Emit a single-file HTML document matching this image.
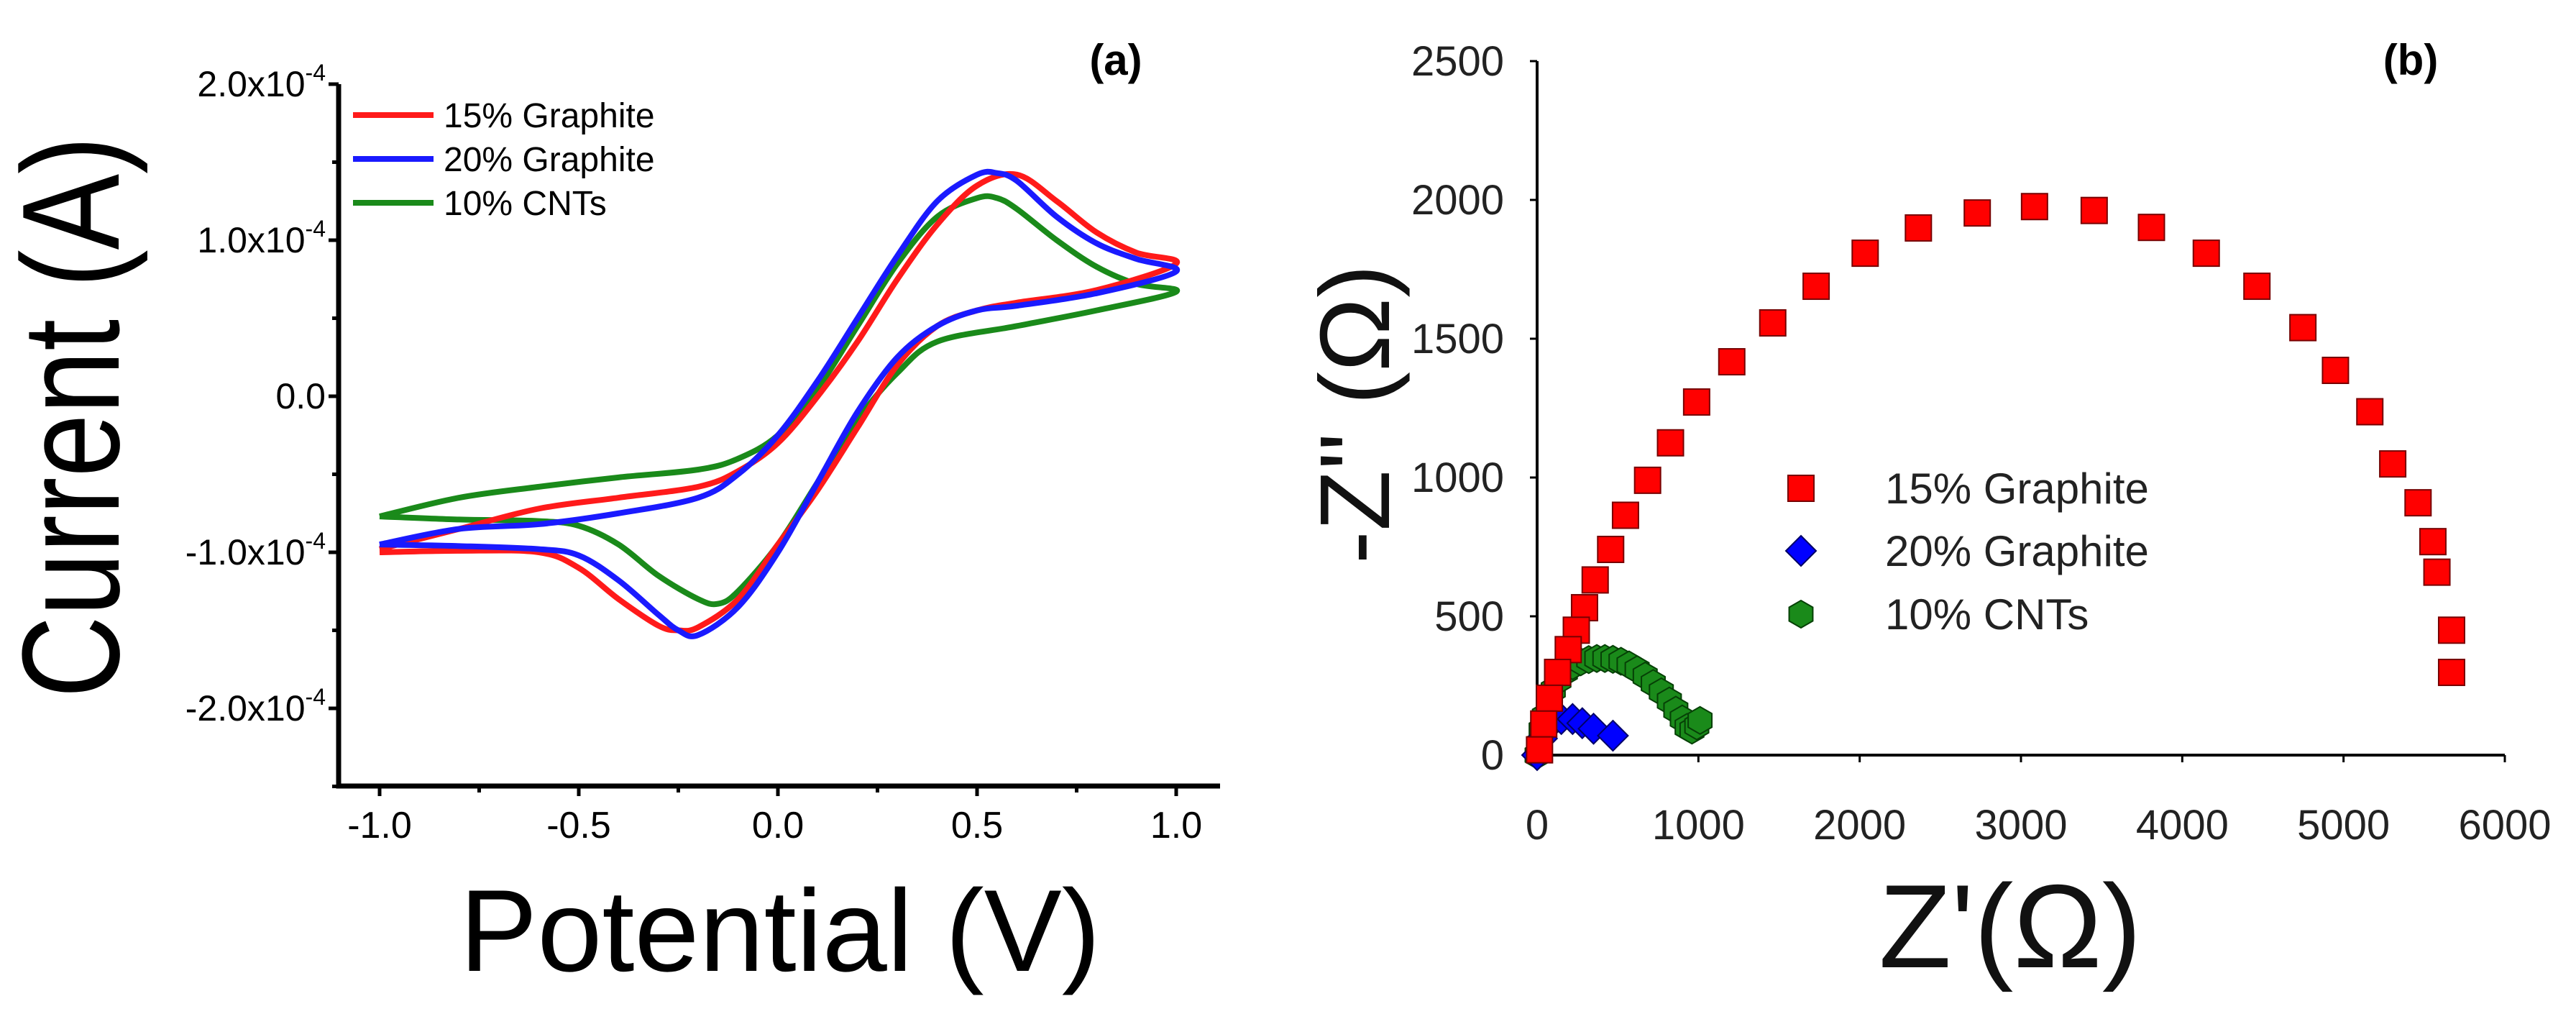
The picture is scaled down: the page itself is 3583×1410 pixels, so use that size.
<!DOCTYPE html>
<html><head><meta charset="utf-8"><style>
html,body{margin:0;padding:0;background:#fff;}
svg{display:block;}
text{font-family:"Liberation Sans",sans-serif;}
</style></head><body>
<svg id="fig" width="3583" height="1410" viewBox="0 0 3583 1410" xmlns="http://www.w3.org/2000/svg">
<g id="cv"></g>
<g id="eis"></g>
</svg>
<script>
// ---------- Panel (a) data: cyclic voltammetry (current in 1e-4 A) ----------
const cvXTicks = [-1.0, -0.5, 0.0, 0.5, 1.0];
const cvXTickLabels = ["-1.0", "-0.5", "0.0", "0.5", "1.0"];
const cvYTicks = [2, 1, 0, -1, -2];
const cvYTickLabels = ["2.0x10", "1.0x10", "0.0", "-1.0x10", "-2.0x10"];
const cvSeriesNames = ["15% Graphite", "20% Graphite", "10% CNTs"];

const redUpE = [-1.0,-0.8,-0.6,-0.4,-0.2,-0.1,0.0,0.1,0.2,0.3,0.4,0.5,0.6,0.7,0.8,0.9,1.0];
const redUpI = [-0.98,-0.85,-0.72,-0.65,-0.58,-0.48,-0.3,0.0,0.35,0.75,1.1,1.35,1.42,1.25,1.05,0.92,0.85];
const redDnE = [1.0,0.8,0.6,0.5,0.4,0.3,0.2,0.1,0.0,-0.1,-0.2,-0.25,-0.3,-0.4,-0.5,-0.6,-0.8,-1.0];
const redDnI = [0.82,0.68,0.6,0.55,0.45,0.2,-0.2,-0.6,-0.95,-1.3,-1.48,-1.5,-1.47,-1.3,-1.1,-1.0,-0.99,-1.0];

const blueUpE = [-1.0,-0.8,-0.6,-0.4,-0.2,-0.1,0.0,0.1,0.2,0.3,0.4,0.5,0.55,0.6,0.7,0.8,0.9,1.0];
const blueUpI = [-0.95,-0.85,-0.82,-0.75,-0.65,-0.5,-0.25,0.1,0.5,0.9,1.25,1.42,1.43,1.38,1.15,0.98,0.88,0.8];
const blueDnE = [1.0,0.8,0.6,0.5,0.4,0.3,0.2,0.1,0.0,-0.1,-0.2,-0.25,-0.3,-0.4,-0.5,-0.6,-0.8,-1.0];
const blueDnI = [0.78,0.66,0.58,0.55,0.45,0.25,-0.1,-0.55,-1.0,-1.35,-1.53,-1.5,-1.4,-1.18,-1.02,-0.98,-0.96,-0.95];

const greenUpE = [-1.0,-0.8,-0.6,-0.4,-0.2,-0.1,0.0,0.1,0.2,0.3,0.4,0.5,0.55,0.6,0.7,0.8,0.9,1.0];
const greenUpI = [-0.77,-0.65,-0.58,-0.52,-0.47,-0.4,-0.25,0.05,0.45,0.85,1.15,1.27,1.27,1.2,1.0,0.83,0.72,0.67];
const greenDnE = [1.0,0.8,0.6,0.4,0.3,0.2,0.1,0.0,-0.1,-0.15,-0.2,-0.3,-0.4,-0.5,-0.6,-0.8,-1.0];
const greenDnI = [0.67,0.55,0.45,0.35,0.15,-0.15,-0.55,-0.95,-1.25,-1.33,-1.3,-1.15,-0.95,-0.83,-0.8,-0.79,-0.77];

// ---------- Panel (b) data: Nyquist ----------
const nyXTicks = [0,1000,2000,3000,4000,5000,6000];
const nyYTicks = [0,500,1000,1500,2000,2500];
const redZre = [5670,5670,5579,5554,5462,5305,5163,4950,4748,4463,4149,3809,3454,3084,2729,2364,2034,1730,1461,1207,989,827,685,548,456,360,294,243,193,127,76,41,15];
const redZim = [298,450,659,769,909,1049,1237,1386,1540,1689,1808,1901,1962,1976,1953,1899,1808,1689,1557,1417,1272,1125,990,864,741,631,531,450,380,298,205,112,19];
const blueZre = [0,30,80,150,220,280,350,470];
const blueZim = [0,60,110,130,130,115,95,70];
const greenZre = [0,10,25,45,70,100,135,175,220,270,320,370,420,470,520,570,620,670,720,770,820,860,900,930,960,990,1010];
const greenZim = [0,40,90,140,190,235,270,300,322,336,344,348,348,345,338,325,308,285,258,228,195,162,130,100,90,105,125];

const NS = "http://www.w3.org/2000/svg";
function mk(parent, tag, attrs, txt){
  const e = document.createElementNS(NS, tag);
  for (const k in attrs) e.setAttribute(k, attrs[k]);
  if (txt !== undefined) e.textContent = txt;
  parent.appendChild(e);
  return e;
}

// ===== Panel (a) =====
const cv = document.getElementById('cv');
const ax = v => 528 + (v + 1) * 554;
const ay = v => 551 - v * 217;

let el = mk(cv, 'path', {d:'M471,117 L471,1093 L1697,1093', fill:'none', stroke:'#000', 'stroke-width':7});



for (let v = -1.0; v <= 1.001; v += 0.25) {
  const major = Math.abs(v*2 - Math.round(v*2)) < 1e-6;
  el = mk(cv, 'line', {x1:ax(v), x2:ax(v), y1:1093, y2:1093 + (major ? 14 : 9), stroke:'#000', 'stroke-width':5});
  
  
}
for (let v = -2.5; v <= 2.001; v += 0.5) {
  const major = Math.abs(v - Math.round(v)) < 1e-6;
  el = mk(cv, 'line', {x1:471 - (major ? 14 : 9), x2:471, y1:ay(v), y2:ay(v), stroke:'#000', 'stroke-width':5});
  
  
}
cvXTicks.forEach((v, i) => {
  el = mk(cv, 'text', {x:ax(v), y:1165, 'font-size':52, 'text-anchor':'middle', fill:'#000'}, cvXTickLabels[i]);
  
  
});
cvYTicks.forEach((v, i) => {
  const t = mk(cv, 'text', {x:453, y:ay(v) + 17, 'font-size':50, 'text-anchor':'end', fill:'#000'});
  
  
  if (v === 0) { t.textContent = cvYTickLabels[i]; }
  else {
    mk(t, 'tspan', {}, cvYTickLabels[i]);
    mk(t, 'tspan', {'font-size':32, dy:-22}, '-4');
  }
});

function smoothPath(px, py){
  let d = `M${px[0]},${py[0]}`;
  for (let i = 0; i < px.length - 1; i++) {
    const x0 = px[Math.max(i-1,0)], y0 = py[Math.max(i-1,0)];
    const x1 = px[i], y1 = py[i], x2 = px[i+1], y2 = py[i+1];
    const x3 = px[Math.min(i+2,px.length-1)], y3 = py[Math.min(i+2,px.length-1)];
    d += ` C${x1+(x2-x0)/6},${y1+(y2-y0)/6} ${x2-(x3-x1)/6},${y2-(y3-y1)/6} ${x2},${y2}`;
  }
  return d;
}
function drawCV(upE, upI, dnE, dnI, color, name){
  const E = upE.concat(dnE.slice(1)), I = upI.concat(dnI.slice(1));
  const p = mk(cv, 'path', {d:smoothPath(E.map(ax), I.map(ay)), fill:'none', stroke:color, 'stroke-width':8, 'stroke-linejoin':'round'});
  
  
}
drawCV(greenUpE, greenUpI, greenDnE, greenDnI, '#1a8a1a', 'cv-curve-10-cnts');
drawCV(redUpE, redUpI, redDnE, redDnI, '#ff1a1a', 'cv-curve-15-graphite');
drawCV(blueUpE, blueUpI, blueDnE, blueDnI, '#1a1aff', 'cv-curve-20-graphite');

const cvColors = ['#ff1a1a', '#1a1aff', '#1a8a1a'];
cvSeriesNames.forEach((n, i) => {
  const y = 160 + i * 61;
  el = mk(cv, 'line', {x1:491, x2:603, y1:y, y2:y, stroke:cvColors[i], 'stroke-width':8});
  
  
  el = mk(cv, 'text', {x:617, y:y + 17, 'font-size':48, fill:'#000'}, n);
  
  
});

el = mk(cv, 'text', {x:1552, y:104, 'font-size':60, 'font-weight':'bold', 'text-anchor':'middle', fill:'#000'}, '(a)');


el = mk(cv, 'text', {x:1085, y:1350, 'font-size':162, 'text-anchor':'middle', fill:'#000'}, 'Potential (V)');


el = mk(cv, 'text', {x:0, y:0, 'font-size':158, 'text-anchor':'middle', fill:'#000', transform:'translate(165,580) rotate(-90) scale(1,1.22)'}, 'Current (A)');



// ===== Panel (b) =====
const eis = document.getElementById('eis');
const bx = v => 2138 + v * (1346 / 6000);
const by = v => 1050 - v * (965 / 2500);

el = mk(eis, 'path', {d:`M2138,${by(2500)} L2138,1050 L3484,1050`, fill:'none', stroke:'#000', 'stroke-width':4});


nyYTicks.forEach(v => {
  el = mk(eis, 'line', {x1:2128, x2:2138, y1:by(v), y2:by(v), stroke:'#000', 'stroke-width':3});
  
  
  el = mk(eis, 'text', {x:2092, y:by(v) + 20, 'font-size':58, 'text-anchor':'end', fill:'#222'}, String(v));
  
  
});
nyXTicks.forEach(v => {
  el = mk(eis, 'line', {x1:bx(v), x2:bx(v), y1:1050, y2:1060, stroke:'#000', 'stroke-width':3});
  
  
  el = mk(eis, 'text', {x:bx(v), y:1167, 'font-size':58, 'text-anchor':'middle', fill:'#222'}, String(v));
  
  
});

function square(cx, cy, s){ return mk(eis, 'rect', {x:cx - s/2, y:cy - s/2, width:s, height:s, fill:'#f00', stroke:'#700', 'stroke-width':2}); }
function diamond(cx, cy, s){ return mk(eis, 'polygon', {points:`${cx},${cy-s/2} ${cx+s/2},${cy} ${cx},${cy+s/2} ${cx-s/2},${cy}`, fill:'#00f', stroke:'#006', 'stroke-width':2}); }
function hexa(cx, cy, s){
  const r = s/2; let pts = [];
  for (let k = 0; k < 6; k++) { const a = Math.PI/6 + k*Math.PI/3; pts.push(`${cx + r*Math.cos(a)},${cy + r*Math.sin(a)}`); }
  return mk(eis, 'polygon', {points:pts.join(' '), fill:'#1a8a1a', stroke:'#064006', 'stroke-width':2});
}
greenZre.forEach((v, i) => {
  const m = hexa(bx(v), by(greenZim[i]), 38);
  
  
});
blueZre.forEach((v, i) => {
  const m = diamond(bx(v), by(blueZim[i]), 42);
  
  
});
redZre.forEach((v, i) => {
  const m = square(bx(v), by(redZim[i]), 36);
  
  
});

const lgY = [679, 766, 854];
el = square(2505, lgY[0], 36);


el = diamond(2505, lgY[1], 42);


el = hexa(2505, lgY[2], 38);


cvSeriesNames.forEach((n, i) => {
  el = mk(eis, 'text', {x:2622, y:lgY[i] + 21, 'font-size':60, fill:'#222'}, n);
  
  
});

el = mk(eis, 'text', {x:3353, y:104, 'font-size':60, 'font-weight':'bold', 'text-anchor':'middle', fill:'#000'}, '(b)');


el = mk(eis, 'text', {x:2796, y:1345, 'font-size':165, 'text-anchor':'middle', fill:'#111', 'font-family':'Liberation Serif, serif'}, "Z'(Ω)");


el = mk(eis, 'text', {x:0, y:0, 'font-size':138, 'text-anchor':'middle', fill:'#111', 'font-family':'Liberation Serif, serif', transform:'translate(1932,576) rotate(-90)'}, "-Z'' (Ω)");


</script>
</body></html>
